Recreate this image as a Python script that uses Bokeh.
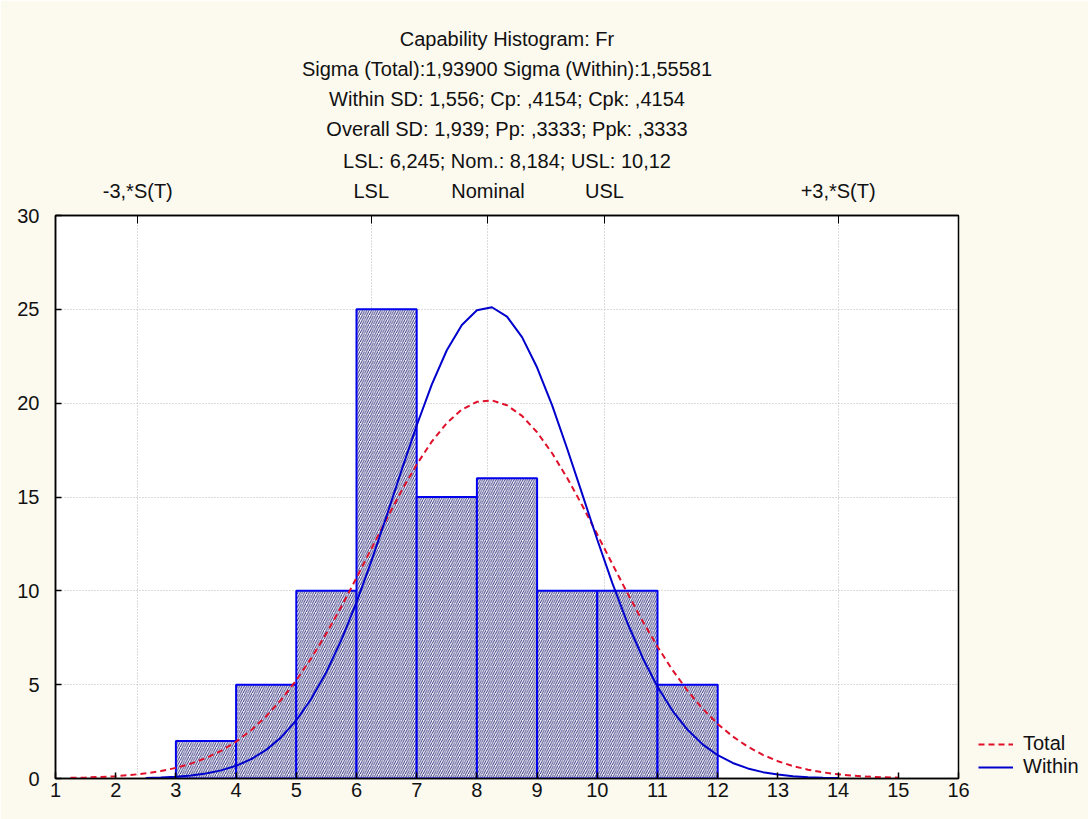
from bokeh.plotting import figure
from bokeh.models import (Range1d, LinearAxis, FixedTicker, Title, Legend, LegendItem,
                          ColumnDataSource)
from bokeh.embed import file_html
from bokeh.resources import INLINE

# ---------------- data ----------------
bin_left = [3, 4, 5, 6, 7, 8, 9, 10, 11]
bin_right = [4, 5, 6, 7, 8, 9, 10, 11, 12]
counts = [2, 5, 10, 25, 15, 16, 10, 10, 5]

spec_pos = [2.367, 6.245, 8.184, 10.12, 14.001]
spec_labels = ["-3,*S(T)", "LSL", "Nominal", "USL", "+3,*S(T)"]

total_x = [1.25, 1.5, 1.75, 2.0, 2.25, 2.5, 2.75, 3.0, 3.25, 3.5, 3.75, 4.0, 4.25, 4.5, 4.75,
           5.0, 5.25, 5.5, 5.75, 6.0, 6.25, 6.5, 6.75, 7.0, 7.25, 7.5, 7.75, 8.0, 8.25, 8.5,
           8.75, 9.0, 9.25, 9.5, 9.75, 10.0, 10.25, 10.5, 10.75, 11.0, 11.25, 11.5, 11.75,
           12.0, 12.25, 12.5, 12.75, 13.0, 13.25, 13.5, 13.75, 14.0, 14.25, 14.5, 14.75, 15.0]
total_y = [0.034, 0.053, 0.082, 0.125, 0.187, 0.274, 0.397, 0.566, 0.792, 1.09, 1.475, 1.964,
           2.573, 3.316, 4.203, 5.234, 6.417, 7.733, 9.171, 10.69, 12.26, 13.83, 15.34, 16.73,
           17.95, 18.94, 19.66, 20.07, 20.15, 19.89, 19.32, 18.45, 17.33, 16.01, 14.55, 13.0,
           11.43, 9.878, 8.399, 7.022, 5.775, 4.672, 3.716, 2.907, 2.238, 1.693, 1.26, 0.922,
           0.664, 0.47, 0.327, 0.224, 0.151, 0.1, 0.065, 0.042]

within_x = [2.5, 2.75, 3.0, 3.25, 3.5, 3.75, 4.0, 4.25, 4.5, 4.75, 5.0, 5.25, 5.5, 5.75, 6.0,
            6.25, 6.5, 6.75, 7.0, 7.25, 7.5, 7.75, 8.0, 8.25, 8.5, 8.75, 9.0, 9.25, 9.5, 9.75,
            10.0, 10.25, 10.5, 10.75, 11.0, 11.25, 11.5, 11.75, 12.0, 12.25, 12.5, 12.75, 13.0,
            13.25, 13.5, 13.75, 14.0]
within_y = [0.032, 0.056, 0.098, 0.165, 0.271, 0.433, 0.676, 1.028, 1.525, 2.202, 3.096, 4.247,
            5.677, 7.393, 9.384, 11.61, 13.99, 16.44, 18.81, 20.99, 22.82, 24.17, 24.95, 25.11,
            24.61, 23.52, 21.9, 19.88, 17.57, 15.15, 12.72, 10.41, 8.3, 6.45, 4.886, 3.606,
            2.594, 1.818, 1.242, 0.827, 0.537, 0.339, 0.209, 0.125, 0.073, 0.042, 0.023]

title_lines = [
    "Capability Histogram: Fr",
    "Sigma (Total):1,93900 Sigma (Within):1,55581",
    "Within SD: 1,556; Cp: ,4154; Cpk: ,4154",
    "Overall SD: 1,939; Pp: ,3333; Ppk: ,3333",
    "LSL: 6,245; Nom.: 8,184; USL: 10,12",
]

FONT = "Liberation Sans"
FS = "20px"
CREAM = "#FCF9EF"

p = figure(frame_width=903, frame_height=563, output_backend="svg", toolbar_location=None,
           x_range=Range1d(1, 16), y_range=Range1d(0, 30),
           background_fill_color="white", border_fill_color=CREAM,
           min_border_left=55, min_border_right=130, min_border_bottom=41, min_border_top=215)
p.outline_line_color = "black"
p.outline_line_width = 1.5

# bottom / left axes
for ax in (p.xaxis[0], p.yaxis[0]):
    ax.major_tick_in = 6
    ax.major_tick_out = 0
    ax.minor_tick_line_color = None
    ax.axis_line_color = "black"
    ax.axis_line_width = 1.5
    ax.major_tick_line_color = "black"
    ax.major_tick_line_width = 1.5
    ax.major_label_text_font = FONT
    ax.major_label_text_font_size = FS
    ax.major_label_text_color = "#111111"
p.xaxis[0].ticker = FixedTicker(ticks=list(range(1, 17)))
p.xaxis[0].major_label_standoff = 4
p.yaxis[0].ticker = FixedTicker(ticks=[0, 5, 10, 15, 20, 25, 30])
p.yaxis[0].major_label_standoff = 16

# top axis with spec marks
top = LinearAxis(ticker=FixedTicker(ticks=spec_pos),
                 major_label_overrides={v: s for v, s in zip(spec_pos, spec_labels)})
top.major_tick_in = 8
top.major_tick_out = 0
top.minor_tick_line_color = None
top.axis_line_color = "black"
top.axis_line_width = 1.5
top.major_tick_line_color = "black"
top.major_label_text_font = FONT
top.major_label_text_font_size = FS
top.major_label_text_color = "#111111"
top.major_label_standoff = 14
p.add_layout(top, "above")

# grids
p.xgrid.ticker = FixedTicker(ticks=spec_pos)
for g in (p.xgrid[0], p.ygrid[0]):
    g.grid_line_color = "#b8b8b8"
    g.grid_line_dash = "1 2"
    g.grid_line_width = 1
p.ygrid.ticker = FixedTicker(ticks=[5, 10, 15, 20, 25])

# titles (closest to plot first)
for i, t in enumerate(reversed(title_lines)):
    p.add_layout(Title(text=t, align="center", text_font=FONT, text_font_size=FS,
                       text_font_style="normal", text_color="#111111",
                       standoff=6 if i else 10, offset=0), "above")

# histogram bars
src = ColumnDataSource(dict(left=bin_left, right=bin_right, top=counts,
                            bottom=[0] * len(counts)))
p.quad(left="left", right="right", top="top", bottom="bottom", source=src,
       fill_color="#F6F6FB", line_color="#0000EE", line_width=2,
       hatch_pattern="/", hatch_color="#1e1e70", hatch_scale=4.5, hatch_weight=0.9)

r_total = p.line(total_x, total_y, line_color="#E0102A", line_width=2, line_dash="6 4")
r_within = p.line(within_x, within_y, line_color="#0000CC", line_width=2)

legend = Legend(items=[LegendItem(label="Total", renderers=[r_total]),
                       LegendItem(label="Within", renderers=[r_within])],
                location=(20, 0), border_line_alpha=0, background_fill_alpha=0,
                label_text_font=FONT, label_text_font_size=FS, label_text_color="#111111",
                glyph_width=35, glyph_height=16, label_standoff=10, spacing=0,
                padding=0, margin=0, label_height=18)
p.add_layout(legend, "right")

open("out.html", "w").write(file_html(p, INLINE))
